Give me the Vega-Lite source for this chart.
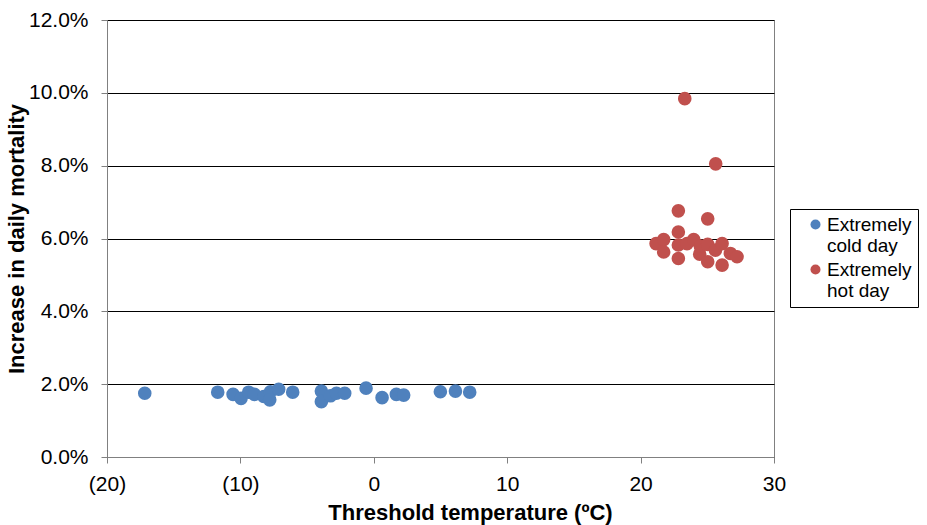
{
  "$schema": "https://vega.github.io/schema/vega-lite/v6.json",
  "width": 667,
  "height": 437,
  "autosize": "none",
  "padding": {"left": 107, "top": 20, "right": 153, "bottom": 68},
  "background": "white",
  "config": {
    "font": "Liberation Sans",
    "view": {"stroke": "#808080", "strokeWidth": 1}
  },
  "data": {
    "values": [
      {"t": -17.17, "m": 0.0175, "s": "Extremely cold day"},
      {"t": -11.7, "m": 0.0178, "s": "Extremely cold day"},
      {"t": -10.55, "m": 0.0172, "s": "Extremely cold day"},
      {"t": -9.95, "m": 0.0161, "s": "Extremely cold day"},
      {"t": -9.38, "m": 0.0178, "s": "Extremely cold day"},
      {"t": -8.95, "m": 0.0172, "s": "Extremely cold day"},
      {"t": -8.25, "m": 0.0166, "s": "Extremely cold day"},
      {"t": -7.75, "m": 0.0179, "s": "Extremely cold day"},
      {"t": -7.8, "m": 0.0157, "s": "Extremely cold day"},
      {"t": -7.13, "m": 0.0186, "s": "Extremely cold day"},
      {"t": -6.08, "m": 0.0178, "s": "Extremely cold day"},
      {"t": -3.93, "m": 0.0181, "s": "Extremely cold day"},
      {"t": -3.93, "m": 0.0152, "s": "Extremely cold day"},
      {"t": -3.25, "m": 0.0168, "s": "Extremely cold day"},
      {"t": -2.8, "m": 0.0175, "s": "Extremely cold day"},
      {"t": -2.18, "m": 0.0175, "s": "Extremely cold day"},
      {"t": -0.58, "m": 0.0189, "s": "Extremely cold day"},
      {"t": 0.62, "m": 0.0163, "s": "Extremely cold day"},
      {"t": 1.69, "m": 0.0172, "s": "Extremely cold day"},
      {"t": 2.24, "m": 0.0170, "s": "Extremely cold day"},
      {"t": 4.99, "m": 0.0179, "s": "Extremely cold day"},
      {"t": 6.12, "m": 0.0181, "s": "Extremely cold day"},
      {"t": 7.19, "m": 0.0178, "s": "Extremely cold day"},
      {"t": 23.31, "m": 0.0984, "s": "Extremely hot day"},
      {"t": 25.63, "m": 0.0805, "s": "Extremely hot day"},
      {"t": 22.83, "m": 0.0676, "s": "Extremely hot day"},
      {"t": 25.03, "m": 0.0654, "s": "Extremely hot day"},
      {"t": 22.83, "m": 0.0618, "s": "Extremely hot day"},
      {"t": 21.16, "m": 0.0586, "s": "Extremely hot day"},
      {"t": 21.73, "m": 0.0597, "s": "Extremely hot day"},
      {"t": 21.73, "m": 0.0563, "s": "Extremely hot day"},
      {"t": 22.83, "m": 0.0582, "s": "Extremely hot day"},
      {"t": 22.83, "m": 0.0545, "s": "Extremely hot day"},
      {"t": 23.48, "m": 0.0586, "s": "Extremely hot day"},
      {"t": 23.98, "m": 0.0597, "s": "Extremely hot day"},
      {"t": 24.43, "m": 0.0557, "s": "Extremely hot day"},
      {"t": 24.48, "m": 0.0579, "s": "Extremely hot day"},
      {"t": 25.03, "m": 0.0584, "s": "Extremely hot day"},
      {"t": 25.03, "m": 0.0536, "s": "Extremely hot day"},
      {"t": 25.61, "m": 0.0568, "s": "Extremely hot day"},
      {"t": 26.11, "m": 0.0586, "s": "Extremely hot day"},
      {"t": 26.11, "m": 0.0527, "s": "Extremely hot day"},
      {"t": 26.73, "m": 0.0559, "s": "Extremely hot day"},
      {"t": 27.23, "m": 0.0550, "s": "Extremely hot day"}
    ]
  },
  "mark": {"type": "circle", "size": 185, "opacity": 1},
  "encoding": {
    "x": {
      "field": "t", "type": "quantitative",
      "scale": {"domain": [-20, 30], "nice": false, "zero": false},
      "axis": {
        "values": [-20, -10, 0, 10, 20, 30],
        "grid": false,
        "labelFlush": false,
        "labelExpr": "datum.value < 0 ? '(' + abs(datum.value) + ')' : '' + datum.value",
        "labelFontSize": 21, "labelColor": "#000", "labelPadding": 10,
        "domainColor": "#808080", "tickColor": "#808080", "tickSize": 6,
        "title": "Threshold temperature (ºC)",
        "titleX": 363, "titleAnchor": "middle",
        "titleFontSize": 22, "titleFontWeight": "bold", "titleColor": "#000", "titlePadding": 8
      }
    },
    "y": {
      "field": "m", "type": "quantitative",
      "scale": {"domain": [0, 0.12], "nice": false},
      "axis": {
        "values": [0, 0.02, 0.04, 0.06, 0.08, 0.1, 0.12],
        "format": ".1%",
        "grid": true, "gridColor": "#000", "gridWidth": 1,
        "labelFontSize": 21, "labelColor": "#000", "labelPadding": 13,
        "domainColor": "#808080", "tickColor": "#808080", "tickSize": 6,
        "title": "Increase in daily mortality",
        "titleFontSize": 22, "titleFontWeight": "bold", "titleColor": "#000", "titlePadding": 0
      }
    },
    "color": {
      "field": "s", "type": "nominal",
      "scale": {"domain": ["Extremely cold day", "Extremely hot day"], "range": ["#4F81BD", "#C0504D"]},
      "legend": {
        "title": null,
        "orient": "none",
        "legendX": 683,
        "legendY": 189,
        "strokeColor": "#000",
        "padding": 6,
        "symbolType": "circle",
        "symbolSize": 100,
        "symbolOpacity": 1,
        "symbolOffset": 10,
        "labelFontSize": 19,
        "labelColor": "#000",
        "labelOffset": 2,
        "rowPadding": 4,
        "labelExpr": "datum.label == 'Extremely cold day' ? ['Extremely', 'cold day'] : ['Extremely', 'hot day']"
      }
    }
  }
}
